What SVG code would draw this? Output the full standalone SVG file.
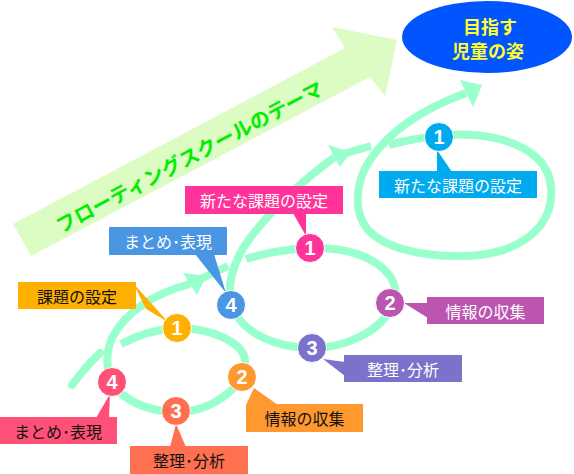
<svg xmlns="http://www.w3.org/2000/svg" width="574" height="474" viewBox="0 0 574 474">
<style>
.sp{fill:none;stroke:#99ffcc;stroke-width:8}
.ah{fill:#99ffcc}
.lb{font-family:"Noto Sans CJK JP","Noto Sans",sans-serif;font-size:16px;text-anchor:middle;dominant-baseline:central}
.w{fill:#ffffff}
.k{fill:#111111}
.num{font-family:"Liberation Sans",Arial,sans-serif;font-weight:bold;font-size:20px;fill:#ffffff;text-anchor:middle;dominant-baseline:central}
.nd{stroke:#ffffff;stroke-width:1}
</style>
<rect width="574" height="474" fill="#ffffff"/>
<g id="theme-arrow">
<polygon points="13,224 345,48 332,27 397,40 385,96 370,77 31,256" fill="#dcfcc4"/>
<text x="189" y="156" transform="rotate(-28 189 156)" font-family="'Noto Sans CJK JP',sans-serif" font-weight="bold" font-size="20" fill="#00ee00" text-anchor="middle" dominant-baseline="central">フローティングスクールのテーマ</text>
</g>
<g id="goal">
<ellipse cx="487" cy="37" rx="85" ry="36" fill="#0055ff"/>
<text x="490" y="26" font-family="'Noto Sans CJK JP',sans-serif" font-weight="bold" font-size="18" fill="#ffff33" text-anchor="middle" dominant-baseline="central">目指す</text>
<text x="488" y="50" font-family="'Noto Sans CJK JP',sans-serif" font-weight="bold" font-size="18" fill="#ffff33" text-anchor="middle" dominant-baseline="central">児童の姿</text>
</g>
<g id="connectors">
<path class="sp" stroke-linecap="round" d="M72,385 Q86,366 100,353"/>
<path class="sp" d="M121,344 C140,334 158,329 177,328 C210,328 245,342 245,362 C245,388 210,412 177,412 C148,412 122,400 112,382 C106,368 106,352 112,338 C125,312 155,293 190,284"/>
<polygon class="ah" points="183,273 206,276 197,295"/>
<path class="sp" d="M190,284 L228,266"/>
<path class="sp" d="M246,259 C268,252 290,249 310,248 C345,247 375,256 390,276 C398,288 396,300 390,310 C378,332 345,348 312,348 C275,348 245,333 233,310 C225,290 232,262 250,238 C270,212 300,182 335,157"/>
<polygon class="ah" points="328,145 351,152 340,167"/>
<path class="sp" d="M335,157 Q352,151 371,146"/>
<path class="sp" d="M389,145 C408,140 422,137 439,136 C475,131 515,138 537,158 C555,175 556,205 540,226 C522,248 490,257 458,256 C420,256 385,248 368,230 C353,212 355,182 370,160 C390,130 425,108 466,93"/>
<polygon class="ah" points="460,80 482,85 473,107"/>
</g>
<g id="c1-1">
<polygon points="133,283 146,309 168,322" fill="#ffb000"/>
<rect x="18" y="282" width="118" height="27" fill="#ffb000"/>
<text class="lb k" x="77" y="295.5">課題の設定</text>
<circle class="nd" cx="177" cy="328" r="14.5" fill="#ffb000"/>
<text class="num" x="177" y="328">1</text>
</g>
<g id="c1-2">
<polygon points="254,388 246,405 278,405" fill="#ff982e"/>
<rect x="246" y="404" width="117" height="28" fill="#ff982e"/>
<text class="lb k" x="304.5" y="418">情報の収集</text>
<circle class="nd" cx="242" cy="377" r="14.5" fill="#ff982e"/>
<text class="num" x="242" y="377">2</text>
</g>
<g id="c1-3">
<polygon points="176,424 170,447 186,447" fill="#ff7050"/>
<rect x="130" y="446" width="118" height="28" fill="#ff7050"/>
<text class="lb k" x="189" y="460">整理･分析</text>
<circle class="nd" cx="176" cy="411" r="14.5" fill="#ff7050"/>
<text class="num" x="176" y="411">3</text>
</g>
<g id="c1-4">
<polygon points="110,394 96,418 109,418" fill="#ff5078"/>
<rect x="0" y="417" width="117" height="27" fill="#ff5078"/>
<text class="lb k" x="58" y="430.5">まとめ･表現</text>
<circle class="nd" cx="112" cy="382" r="14.5" fill="#ff5078"/>
<text class="num" x="112" y="382">4</text>
</g>
<g id="c2-4">
<polygon points="195,254 214,254 226,293" fill="#4a96e2"/>
<rect x="109" y="227" width="118" height="28" fill="#4a96e2"/>
<text class="lb w" x="168" y="241">まとめ･表現</text>
<circle class="nd" cx="231" cy="305" r="14.5" fill="#4a96e2"/>
<text class="num" x="231" y="305">4</text>
</g>
<g id="c2-1">
<polygon points="293,213 306,213 306,236" fill="#ff3399"/>
<rect x="185" y="186" width="158" height="28" fill="#ff3399"/>
<text class="lb w" x="264" y="200">新たな課題の設定</text>
<circle class="nd" cx="310" cy="248" r="14.5" fill="#ff3399"/>
<text class="num" x="310" y="248">1</text>
</g>
<g id="c2-2">
<polygon points="404,303 428,303 428,318" fill="#bb55b0"/>
<rect x="427" y="297" width="117" height="27" fill="#bb55b0"/>
<text class="lb w" x="485.5" y="310.5">情報の収集</text>
<circle class="nd" cx="390" cy="303" r="14.5" fill="#bb55b0"/>
<text class="num" x="390" y="303">2</text>
</g>
<g id="c2-3">
<polygon points="323,359 345,362 345,376" fill="#7b72cc"/>
<rect x="344" y="355" width="118" height="27" fill="#7b72cc"/>
<text class="lb w" x="403" y="368.5">整理･分析</text>
<circle class="nd" cx="312" cy="348" r="14.5" fill="#7b72cc"/>
<text class="num" x="312" y="348">3</text>
</g>
<g id="c3-1">
<polygon points="437,150 437,172 452,172" fill="#00aaee"/>
<rect x="379" y="171" width="158" height="27" fill="#00aaee"/>
<text class="lb w" x="458" y="184.5">新たな課題の設定</text>
<circle class="nd" cx="439" cy="137" r="14.5" fill="#00aaee"/>
<text class="num" x="439" y="137">1</text>
</g>
</svg>
